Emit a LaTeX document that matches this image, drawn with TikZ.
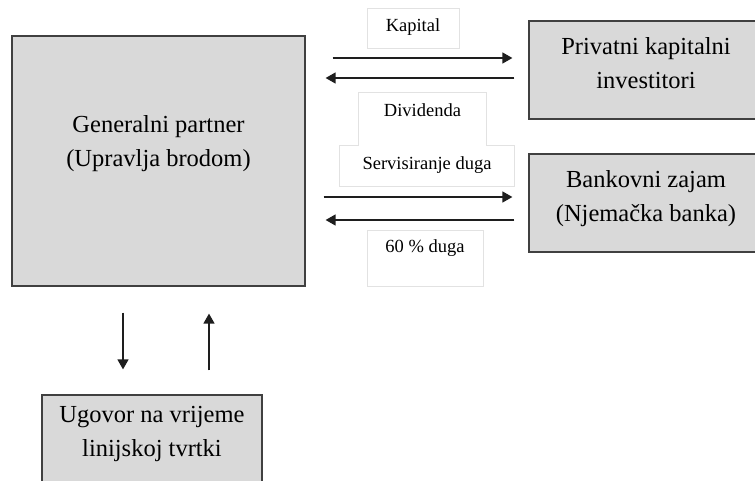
\documentclass[tikz,border=0pt]{standalone}
\usepackage{fontspec}
\setmainfont{Liberation Serif}
\usetikzlibrary{arrows.meta}
\definecolor{boxfill}{HTML}{D9D9D9}
\definecolor{boxline}{HTML}{404040}
\definecolor{lblline}{HTML}{E2E2E2}
\definecolor{flowcol}{HTML}{1E1E1E}
\begin{document}
\begin{tikzpicture}[x=1pt, y=-1pt,
  box/.style={draw=boxline, fill=boxfill, line width=1.2pt, inner sep=0pt},
  lbl/.style={inner sep=0pt, minimum height=40pt},
  bigtxt/.style={align=center, font=\fontsize{24.5}{34}\selectfont},
  smalltxt/.style={font=\fontsize{18.5}{22}\selectfont},
  flow/.style={draw=flowcol, line width=1.4pt, -{Triangle[length=10pt,width=11pt]}}]

\clip (0,0) rectangle (755,481);
\fill[white] (0,0) rectangle (755,481);

%BOXES
\node[box, minimum width=293pt, minimum height=250pt] (gp) at (158.5,161) {};
\node[box, minimum width=228pt, minimum height=98pt] (pk) at (643,70) {};
\node[box, minimum width=228pt, minimum height=98pt] (bz) at (643,203) {};
\node[box, minimum width=220pt, minimum height=105pt] (ug) at (152,447.5) {};

\node[bigtxt] (gp-t) at (158.5,144) {Generalni partner\\(Upravlja brodom)};
\node[bigtxt] (pk-t) at (646,63) {Privatni kapitalni\\investitori};
\node[bigtxt] (bz-t) at (646,199) {Bankovni zajam\\(Njemačka banka)};
\node[bigtxt] (ug-t) at (152,434) {Ugovor na vrijeme\\linijskoj tvrtki};

%LABELS
\node[lbl, minimum width=92pt, draw=lblline, line width=0.8pt] (kp) at (413,28) {};
\node[lbl, minimum width=127pt, minimum height=53pt] (dv) at (422.5,119.5) {};
\node[lbl, minimum width=174pt] (sd) at (427,166) {};
\node[lbl, minimum width=116pt, minimum height=56pt, draw=lblline, line width=0.8pt] (du) at (425,258) {};
\draw[lblline, line width=0.8pt] (dv.west |- sd.north) |- (dv.north east) |- (sd.north east)
  |- (sd.south west) |- cycle;

\node[smalltxt] (kp-t) at (413,27) {Kapital};
\node[smalltxt] (dv-t) at (422.5,110) {Dividenda};
\node[smalltxt] (sd-t) at (427,165) {Servisiranje duga};
\node[smalltxt] (du-t) at (425,248) {60 \% duga};

%Arrows
\draw[flow, shorten <=27pt, shorten >=16pt] (gp.east |- 0,58) -- (pk.west |- 0,58);
\draw[flow, shorten <=14pt, shorten >=20pt] (pk.west |- 0,78) -- (gp.east |- 0,78);
\draw[flow, shorten <=18pt, shorten >=16pt] (gp.east |- 0,197) -- (bz.west |- 0,197);
\draw[flow, shorten <=14pt, shorten >=20pt] (bz.west |- 0,220) -- (gp.east |- 0,220);
\draw[flow, shorten <=26pt, shorten >=25pt] (gp.south -| 123,0) -- (ug.north -| 123,0);
\draw[flow, shorten <=24pt, shorten >=27pt] (ug.north -| 209,0) -- (gp.south -| 209,0);

\end{tikzpicture}
\end{document}
